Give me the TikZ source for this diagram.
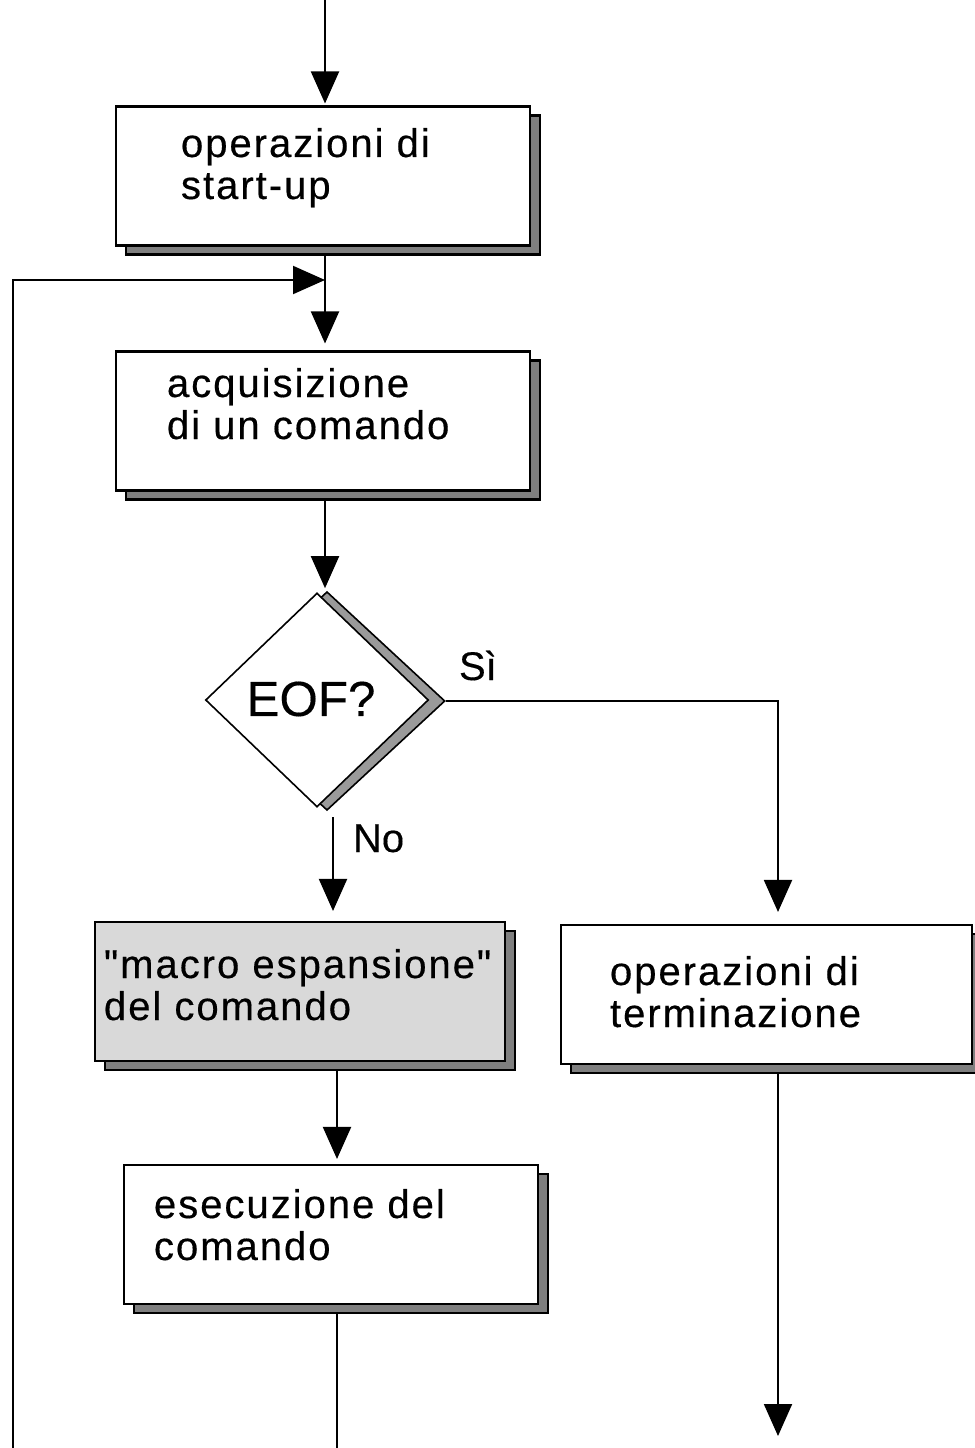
\documentclass[tikz,border=0pt]{standalone}
\usepackage{fontspec}
\setmainfont{Liberation Sans}
\newfontfamily\boxfont[LetterSpace=5,FakeBold=0.4]{Liberation Sans}
\newfontfamily\lblfont[FakeBold=0.3]{Liberation Sans}
\usetikzlibrary{arrows.meta,shapes.geometric,shadows}
\definecolor{shadowgray}{HTML}{7F7F7F}
\definecolor{dshadowgray}{HTML}{9A9A9A}
\definecolor{macrofill}{HTML}{D9D9D9}
\begin{document}
\begin{tikzpicture}[x=0.75pt,y=-0.75pt,
  line width=1.5pt,
  arr/.style={-{Triangle[length=24pt,width=21pt]}},
  flowbox/.style={draw, fill=white, line width=1.8pt, rectangle, inner sep=0pt,
    minimum height=104pt,
    copy shadow={shadow xshift=7.5pt, shadow yshift=-6.75pt, fill=shadowgray, draw=black, line width=1.8pt}},
  boxtext/.style={anchor=base west, inner sep=0pt, align=left,
    font=\boxfont\fontsize{30pt}{31.5pt}\selectfont},
  lbl/.style={anchor=base west, inner sep=0pt, font=\lblfont\fontsize{30pt}{33pt}\selectfont}
]
\useasboundingbox (0,0) rectangle (974,1448);

% boxes
\node[flowbox, minimum width=310.5pt] (b1) at (323,176) {};
\node[flowbox, minimum width=310.5pt] (b2) at (323,421) {};
\node[flowbox, fill=macrofill, minimum width=307.5pt] (m) at (300,991.5) {};
\node[flowbox, minimum width=308.25pt] (t) at (766.5,994.5) {};
\node[flowbox, minimum width=310.5pt] (e) at (331,1234.5) {};

% box texts (anchor = baseline of last line)
\node[boxtext] (b1t) at (180,199) {operazioni di\\start-up};
\node[boxtext] (b2t) at (166,439) {acquisizione\\di un comando};
\node[boxtext] (mt) at (103,1020) {"macro espansione"\\del comando};
\node[boxtext] (tt) at (609,1027) {operazioni di\\terminazione};
\node[boxtext] (et) at (153,1260) {esecuzione del\\comando};

% decision
\node[diamond, draw=black, fill=dshadowgray, line width=1.2pt, inner sep=0pt,
      minimum width=177pt, minimum height=164pt] (dsh) at (327,701) {};
\node[diamond, draw=black, fill=white, line width=1.2pt, inner sep=0pt,
      minimum width=167.25pt, minimum height=160.5pt] (d) at (317,700) {};
\node[inner sep=0pt, font=\lblfont\fontsize{37pt}{40pt}\selectfont] (dt) at (311,699) {EOF?};

% labels
\node[lbl] (si) at (458,680) {Sì};
\node[lbl] (no) at (352,852) {No};

% coordinates
\coordinate (top) at (325,0);
\coordinate (join) at (325,280);
\coordinate (loopbot) at (13,1448);
\coordinate (yescorner) at (778,701);
\coordinate (nostart) at (333,817);
\coordinate (col3) at (337,1070);
\coordinate (endA) at (337,1448);
\coordinate (endB) at (778,1436);

% connectors
\draw[arr, shorten >=1.5pt] (top) -- (top |- b1.north);
\draw[arr, shorten <=6.75pt, shorten >=5.25pt] (b1.south -| top) -- (b2.north -| top);
\draw[arr] (loopbot) |- (join);
\draw[arr, shorten <=6.75pt, shorten >=3pt] (b2.south -| top) -- (top |- d.north);
\draw[arr, shorten >=9pt] (dsh.east) -- (yescorner) -- (yescorner |- t.north);
\draw[arr, shorten >=7.5pt] (nostart) -- (nostart |- m.north);
\draw[arr, shorten >=3.75pt] (col3) -- (col3 |- e.north);
\draw[shorten <=6.75pt] (endA |- e.south) -- (endA);
\draw[arr, shorten <=6.75pt] (endB |- t.south) -- (endB);
\end{tikzpicture}
\end{document}
